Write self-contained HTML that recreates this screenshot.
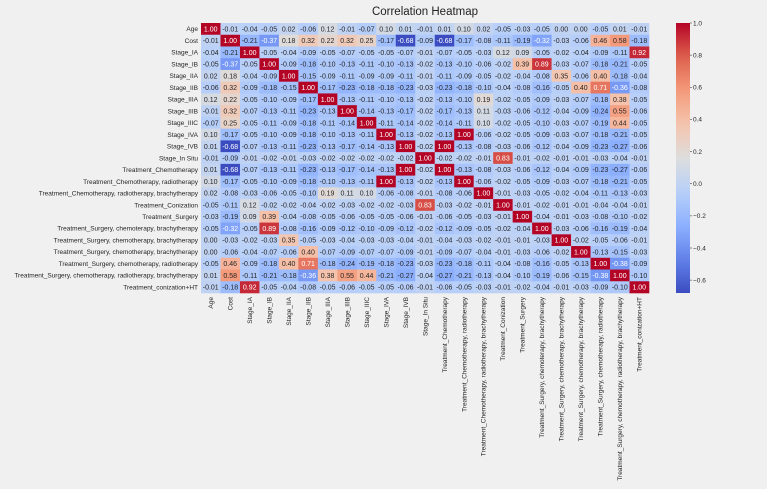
<!DOCTYPE html>
<html><head><meta charset="utf-8"><style>
html,body{margin:0;padding:0;background:#fff;width:773px;height:495px;overflow:hidden}
svg{display:block;font-family:"Liberation Sans","DejaVu Sans",sans-serif}
</style></head><body>
<svg id="chart" width="773" height="495" viewBox="0 0 773 495" xmlns="http://www.w3.org/2000/svg">
<rect x="0" y="0" width="767" height="489" fill="#f0f0f0"/>
<text x="425" y="15" text-anchor="middle" font-size="11.5" fill="#222">Correlation Heatmap</text>
<g id="cells"></g><g id="ylabels"></g><g id="xlabels"></g><g id="cbar"></g>
</svg>
<script>
const labels=["Age","Cost","Stage_IA","Stage_IB","Stage_IIA","Stage_IIB","Stage_IIIA","Stage_IIIB","Stage_IIIC","Stage_IVA","Stage_IVB","Stage_In Situ","Treatment_Chemotherapy","Treatment_Chemotherapy, radiotherapy","Treatment_Chemotherapy, radiotherapy, brachytherapy","Treatment_Conization","Treatment_Surgery","Treatment_Surgery, chemoterapy, brachytherapy","Treatment_Surgery, chemotherapy,  brachytherapy","Treatment_Surgery, chemotherapy, brachytherapy","Treatment_Surgery, chemotherapy, radiotherapy","Treatment_Surgery, chemotherapy, radiotherapy, brachytherapy","Treatment_conization+HT"];
const r0=[1.00,-0.01,-0.04,-0.05,0.02,-0.06,0.12,-0.01,-0.07,0.10,0.01,-0.01,0.01,0.10,0.02,-0.05,-0.03,-0.05,0.00,-0.00,-0.05,0.01,-0.01];
const r1=[-0.01,1.00,-0.21,-0.37,0.18,0.32,0.22,0.32,0.25,-0.17,-0.68,-0.09,-0.68,-0.17,-0.08,-0.11,-0.19,-0.32,-0.03,-0.06,0.46,0.58,-0.18];
const r2=[-0.04,-0.21,1.00,-0.05,-0.04,-0.09,-0.05,-0.07,-0.05,-0.05,-0.07,-0.01,-0.07,-0.05,-0.03,0.12,0.09,-0.05,-0.02,-0.04,-0.09,-0.11,0.92];
const r3=[-0.05,-0.37,-0.05,1.00,-0.09,-0.18,-0.10,-0.13,-0.11,-0.10,-0.13,-0.02,-0.13,-0.10,-0.06,-0.02,0.39,0.89,-0.03,-0.07,-0.18,-0.21,-0.05];
const r4=[0.02,0.18,-0.04,-0.09,1.00,-0.15,-0.09,-0.11,-0.09,-0.09,-0.11,-0.01,-0.11,-0.09,-0.05,-0.02,-0.04,-0.08,0.35,-0.06,0.40,-0.18,-0.04];
const r5=[-0.06,0.32,-0.09,-0.18,-0.15,1.00,-0.17,-0.23,-0.18,-0.18,-0.23,-0.03,-0.23,-0.18,-0.10,-0.04,-0.08,-0.16,-0.05,0.40,0.71,-0.36,-0.08];
const r6=[0.12,0.22,-0.05,-0.10,-0.09,-0.17,1.00,-0.13,-0.11,-0.10,-0.13,-0.02,-0.13,-0.10,0.19,-0.02,-0.05,-0.09,-0.03,-0.07,-0.18,0.38,-0.05];
const r7=[-0.01,0.32,-0.07,-0.13,-0.11,-0.23,-0.13,1.00,-0.14,-0.13,-0.17,-0.02,-0.17,-0.13,0.11,-0.03,-0.06,-0.12,-0.04,-0.09,-0.24,0.55,-0.06];
const r8=[-0.07,0.25,-0.05,-0.11,-0.09,-0.18,-0.11,-0.14,1.00,-0.11,-0.14,-0.02,-0.14,-0.11,0.10,-0.02,-0.05,-0.10,-0.03,-0.07,-0.19,0.44,-0.05];
const r9=[0.10,-0.17,-0.05,-0.10,-0.09,-0.18,-0.10,-0.13,-0.11,1.00,-0.13,-0.02,-0.13,1.00,-0.06,-0.02,-0.05,-0.09,-0.03,-0.07,-0.18,-0.21,-0.05];
const r10=[0.01,-0.68,-0.07,-0.13,-0.11,-0.23,-0.13,-0.17,-0.14,-0.13,1.00,-0.02,1.00,-0.13,-0.08,-0.03,-0.06,-0.12,-0.04,-0.09,-0.23,-0.27,-0.06];
const r11=[-0.01,-0.09,-0.01,-0.02,-0.01,-0.03,-0.02,-0.02,-0.02,-0.02,-0.02,1.00,-0.02,-0.02,-0.01,0.83,-0.01,-0.02,-0.01,-0.01,-0.03,-0.04,-0.01];
const r12=[0.01,-0.68,-0.07,-0.13,-0.11,-0.23,-0.13,-0.17,-0.14,-0.13,1.00,-0.02,1.00,-0.13,-0.08,-0.03,-0.06,-0.12,-0.04,-0.09,-0.23,-0.27,-0.06];
const r13=[0.10,-0.17,-0.05,-0.10,-0.09,-0.18,-0.10,-0.13,-0.11,1.00,-0.13,-0.02,-0.13,1.00,-0.06,-0.02,-0.05,-0.09,-0.03,-0.07,-0.18,-0.21,-0.05];
const r14=[0.02,-0.08,-0.03,-0.06,-0.05,-0.10,0.19,0.11,0.10,-0.06,-0.08,-0.01,-0.08,-0.06,1.00,-0.01,-0.03,-0.05,-0.02,-0.04,-0.11,-0.13,-0.03];
const r15=[-0.05,-0.11,0.12,-0.02,-0.02,-0.04,-0.02,-0.03,-0.02,-0.02,-0.03,0.83,-0.03,-0.02,-0.01,1.00,-0.01,-0.02,-0.01,-0.01,-0.04,-0.04,-0.01];
const r16=[-0.03,-0.19,0.09,0.39,-0.04,-0.08,-0.05,-0.06,-0.05,-0.05,-0.06,-0.01,-0.06,-0.05,-0.03,-0.01,1.00,-0.04,-0.01,-0.03,-0.08,-0.10,-0.02];
const r17=[-0.05,-0.32,-0.05,0.89,-0.08,-0.16,-0.09,-0.12,-0.10,-0.09,-0.12,-0.02,-0.12,-0.09,-0.05,-0.02,-0.04,1.00,-0.03,-0.06,-0.16,-0.19,-0.04];
const r18=[0.00,-0.03,-0.02,-0.03,0.35,-0.05,-0.03,-0.04,-0.03,-0.03,-0.04,-0.01,-0.04,-0.03,-0.02,-0.01,-0.01,-0.03,1.00,-0.02,-0.05,-0.06,-0.01];
const r19=[-0.00,-0.06,-0.04,-0.07,-0.06,0.40,-0.07,-0.09,-0.07,-0.07,-0.09,-0.01,-0.09,-0.07,-0.04,-0.01,-0.03,-0.06,-0.02,1.00,-0.13,-0.15,-0.03];
const r20=[-0.05,0.46,-0.09,-0.18,0.40,0.71,-0.18,-0.24,-0.19,-0.18,-0.23,-0.03,-0.23,-0.18,-0.11,-0.04,-0.08,-0.16,-0.05,-0.13,1.00,-0.38,-0.09];
const r21=[0.01,0.58,-0.11,-0.21,-0.18,-0.36,0.38,0.55,0.44,-0.21,-0.27,-0.04,-0.27,-0.21,-0.13,-0.04,-0.10,-0.19,-0.06,-0.15,-0.38,1.00,-0.10];
const r22=[-0.01,-0.18,0.92,-0.05,-0.04,-0.08,-0.05,-0.06,-0.05,-0.05,-0.06,-0.01,-0.06,-0.05,-0.03,-0.01,-0.02,-0.04,-0.01,-0.03,-0.09,-0.10,1.00];
const matrix=[r0,r1,r2,r3,r4,r5,r6,r7,r8,r9,r10,r11,r12,r13,r14,r15,r16,r17,r18,r19,r20,r21,r22];
const cbarTicks=[1.0,0.8,0.6,0.4,0.2,0.0,-0.2,-0.4,-0.6];
const vmin=-0.68, vmax=1.0;

const NS="http://www.w3.org/2000/svg";
const X0=201,X1=649,Y0=23,Y1=293;
const n=labels.length, cw=(X1-X0)/n, ch=(Y1-Y0)/n;
const xPos=i=>X0+i*cw, yPos=i=>Y0+i*ch;
const stops=[[59,76,192],[98,130,234],[141,176,254],[184,208,249],[221,221,221],[245,196,173],[244,154,123],[222,96,77],[180,4,38]];
function cmap(v){let t=(v-vmin)/(vmax-vmin);t=Math.max(0,Math.min(1,t));const p=t*8,i=Math.min(7,Math.floor(p)),f=p-i;const a=stops[i],b=stops[i+1];return [0,1,2].map(k=>Math.round(a[k]+(b[k]-a[k])*f));}
function lum(c){const l=c.map(x=>{x/=255;return x<=0.03928?x/12.92:Math.pow((x+0.055)/1.055,2.4)});return 0.2126*l[0]+0.7152*l[1]+0.0722*l[2];}
function mk(tag,attrs,parent){const e=document.createElementNS(NS,tag);for(const k in attrs)e.setAttribute(k,attrs[k]);parent.appendChild(e);return e;}
const gC=document.getElementById('cells'),gY=document.getElementById('ylabels'),gX=document.getElementById('xlabels'),gB=document.getElementById('cbar');
matrix.forEach((row,i)=>row.forEach((v,j)=>{
  const c=cmap(v);
  const r=mk('rect',{x:xPos(j),y:yPos(i),width:cw+0.3,height:ch+0.3,fill:`rgb(${c})`},gC);
  
  
  const t=mk('text',{x:xPos(j)+cw/2,y:yPos(i)+ch/2+2.5,'text-anchor':'middle','font-size':7,fill:lum(c)<0.408?'#fff':'#262626'},gC);
  
  
  t.textContent=v.toFixed(2);
}));
labels.forEach((l,i)=>{
  const t=mk('text',{x:X0-3,y:yPos(i)+ch/2+2.3,'text-anchor':'end','font-size':6.5,fill:'#262626'},gY);
  
  
  t.textContent=l;
  const cx=xPos(i)+cw/2+2.3;
  const u=mk('text',{x:cx,y:Y1+4,'text-anchor':'end','font-size':6.5,fill:'#262626',transform:`rotate(-90 ${cx} ${Y1+4})`},gX);
  
  
  u.textContent=l;
});
const CB0=676,CBW=14;
const cy=v=>Y0+(vmax-v)/(vmax-vmin)*(Y1-Y0);
const defs=mk('defs',{},gB);
const gr=mk('linearGradient',{id:'cg',x1:0,y1:0,x2:0,y2:1},defs);
for(let k=0;k<=20;k++){const v=vmax-(vmax-vmin)*k/20;mk('stop',{offset:k/20,'stop-color':`rgb(${cmap(v)})`},gr);}
const cb=mk('rect',{x:CB0,y:Y0,width:CBW,height:Y1-Y0,fill:'url(#cg)'},gB);


cbarTicks.forEach(v=>{
  mk('line',{x1:CB0+CBW,x2:CB0+CBW+2,y1:cy(v),y2:cy(v),stroke:'#444','stroke-width':0.6},gB);
  const t=mk('text',{x:CB0+CBW+3,y:cy(v)+2.3,'font-size':6.5,fill:'#262626'},gB);
  
  
  t.textContent=(v<0?'\u2212':'')+Math.abs(v).toFixed(1);
});
</script>
</body></html>
